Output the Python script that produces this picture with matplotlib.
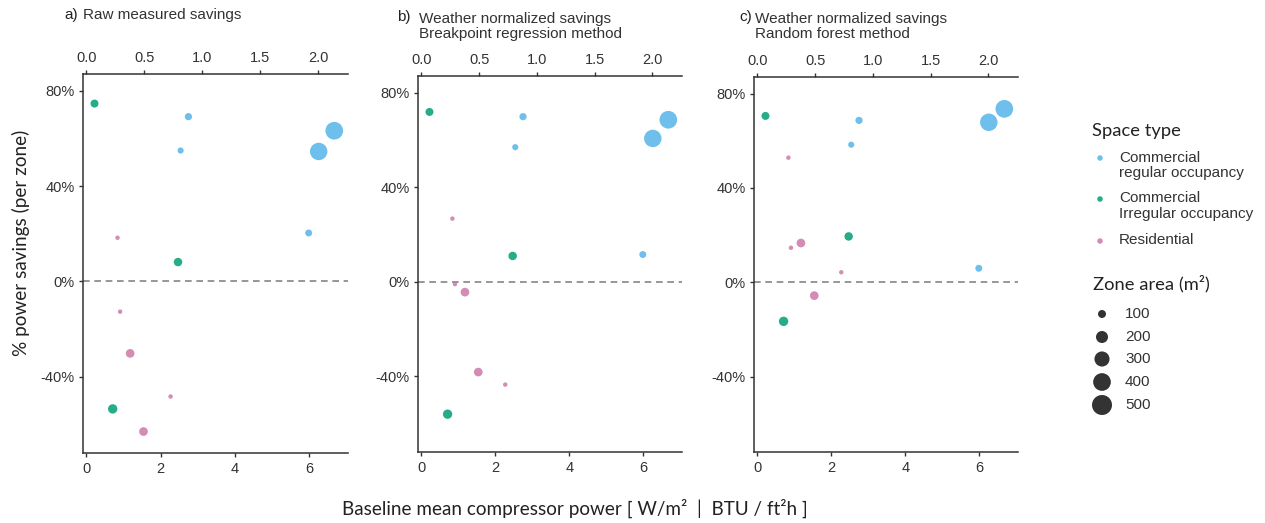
import numpy as np
import matplotlib
matplotlib.use("Agg")
import matplotlib.pyplot as plt

# ---------------- data ----------------
space_types = ["reg", "irr", "res"]
space_labels = ["Commercial\nregular occupancy", "Commercial\nIrregular occupancy", "Residential"]
space_colors = {"reg": "#56B4E9", "irr": "#009E73", "res": "#CC79A7"}

zone_type = ["irr", "reg", "reg", "reg", "reg", "reg", "res", "irr", "res", "res", "res", "irr", "res"]
baseline_power = [0.22, 2.75, 2.54, 6.68, 6.26, 5.99, 0.84, 2.47, 0.91, 1.18, 2.27, 0.71, 1.54]  # W/m2
zone_area = [100, 85, 65, 400, 390, 80, 40, 110, 40, 115, 40, 130, 115]  # m2

savings_raw = [74.6, 69.1, 54.9, 63.2, 54.5, 20.3, 18.3, 8.1, -12.7, -30.2, -48.3, -53.5, -63.0]
savings_bp = [71.8, 69.8, 56.9, 68.5, 60.6, 11.5, 26.7, 10.9, -1.0, -4.4, -43.5, -56.0, -38.2]
savings_rf = [70.5, 68.6, 58.3, 73.5, 67.8, 5.9, 52.8, 19.4, 14.6, 16.6, 4.2, -16.6, -5.7]

panel_tags = ["a)", "b)", "c)"]
panel_titles = [["Raw measured savings"],
                ["Weather normalized savings", "Breakpoint regression method"],
                ["Weather normalized savings", "Random forest method"]]
panel_values = [savings_raw, savings_bp, savings_rf]

y_ticks = [-40, 0, 40, 80]
y_ticklabels = ["-40%", "0%", "40%", "80%"]
x_ticks = [0, 2, 4, 6]
top_ticks = [0.0, 0.5, 1.0, 1.5, 2.0]
size_breaks = [100, 200, 300, 400, 500]
W_TO_BTU = 0.32

# ---------------- style ----------------
DPI = 100
W, H = 1265, 523
TXT = "#333333"
SANS = ["Liberation Sans", "DejaVu Sans"]
CAL = ["Lato", "DejaVu Sans"]


def size_pts(area):
    d_px = 8 + 0.97 * (np.sqrt(np.asarray(area, float)) - 10)
    return (d_px * 72.0 / DPI) ** 2


fig = plt.figure(figsize=(W / DPI, H / DPI), dpi=DPI)

# axes boxes in pixel coords (left, top, right, bottom)
boxes = [(83, 74, 348, 453), (418, 76, 682, 452), (754, 77, 1018, 452)]
tag_pos = [(64, 15), (397, 17), (739, 17)]
title_x = [83, 419, 755]
title_y0 = [15, 19, 19]

for i, (l, t, r, b) in enumerate(boxes):
    ax = fig.add_axes([l / W, 1 - b / H, (r - l) / W, (b - t) / H])
    ax.axhline(0, color="#858585", lw=1.2, ls=(0, (4, 2.8)), zorder=1)
    for st in space_types:
        idx = [k for k, z in enumerate(zone_type) if z == st]
        ax.scatter([baseline_power[k] for k in idx],
                   [panel_values[i][k] for k in idx],
                   s=size_pts([zone_area[k] for k in idx]),
                   color=space_colors[st], alpha=0.85, edgecolors="none", zorder=3)
    ax.set_xlim(-0.09, 7.05)
    ax.set_ylim(-72, 87)
    ax.set_xticks(x_ticks)
    ax.set_xticklabels([str(v) for v in x_ticks])
    ax.set_yticks(y_ticks)
    ax.set_yticklabels(y_ticklabels)
    for s in ["right", "top"]:
        ax.spines[s].set_visible(False)
    for s in ["left", "bottom"]:
        ax.spines[s].set_color(TXT)
        ax.spines[s].set_linewidth(1.1)
    ax.tick_params(direction="out", length=3.2, width=1.0, color=TXT,
                   labelsize=10.5, labelcolor=TXT, pad=3)
    for lab in ax.get_xticklabels() + ax.get_yticklabels():
        lab.set_family(SANS)
    sec = ax.secondary_xaxis("top", functions=(lambda x: x * W_TO_BTU, lambda x: x / W_TO_BTU))
    sec.set_xticks(top_ticks)
    sec.set_xticklabels(["%.1f" % v for v in top_ticks])
    sec.spines["top"].set_color(TXT)
    sec.spines["top"].set_linewidth(1.1)
    sec.tick_params(direction="out", length=3.2, width=1.0, color=TXT,
                    labelsize=10.5, labelcolor=TXT, pad=3)
    for lab in sec.get_xticklabels():
        lab.set_family(SANS)

    # panel titles
    fig.text(tag_pos[i][0] / W, 1 - tag_pos[i][1] / H, panel_tags[i], ha="left", va="center",
             fontsize=11, color="#222222", family=SANS)
    for j, line in enumerate(panel_titles[i]):
        fig.text(title_x[i] / W, 1 - (title_y0[i] + 15 * j) / H, line, ha="left",
                 va="center", fontsize=11, color="#333333", family=SANS)

# axis labels
fig.text(21 / W, 1 - 243 / H, "% power savings (per zone)", rotation=90,
         ha="center", va="center", fontsize=13.6, color="#222222", family=CAL)
fig.text(575 / W, 1 - 508 / H, "Baseline mean compressor power [ W/m²  |  BTU / ft²h ]",
         ha="center", va="center", fontsize=13.6, color="#222222", family=CAL)

# ---------------- legends ----------------
lax = fig.add_axes([0, 0, 1, 1])
lax.set_xlim(0, W)
lax.set_ylim(H, 0)
lax.axis("off")

lax.text(1092, 131, "Space type", ha="left", va="center", fontsize=13.2,
         color="#222222", family=CAL)
key_y = [158, 199, 241]
for st, lab, yy in zip(space_types, space_labels, key_y):
    lax.scatter([1100], [yy], s=(5.5 * 0.72) ** 2, color=space_colors[st],
                alpha=0.85, edgecolors="none")
    lax.text(1119, yy - 7.5, lab, ha="left", va="top", fontsize=11, color=TXT,
             family=SANS, linespacing=1.1)

lax.text(1093, 284, "Zone area (m²)", ha="left", va="center", fontsize=13.2,
         color="#222222", family=CAL)
size_y = [314, 337, 359, 382, 405]
for v, yy in zip(size_breaks, size_y):
    lax.scatter([1102], [yy], s=size_pts(v), color="#333333", edgecolors="none")
    lax.text(1125, yy, str(v), ha="left", va="center", fontsize=11, color=TXT,
             family=SANS)

fig.savefig("out.png", dpi=DPI)
